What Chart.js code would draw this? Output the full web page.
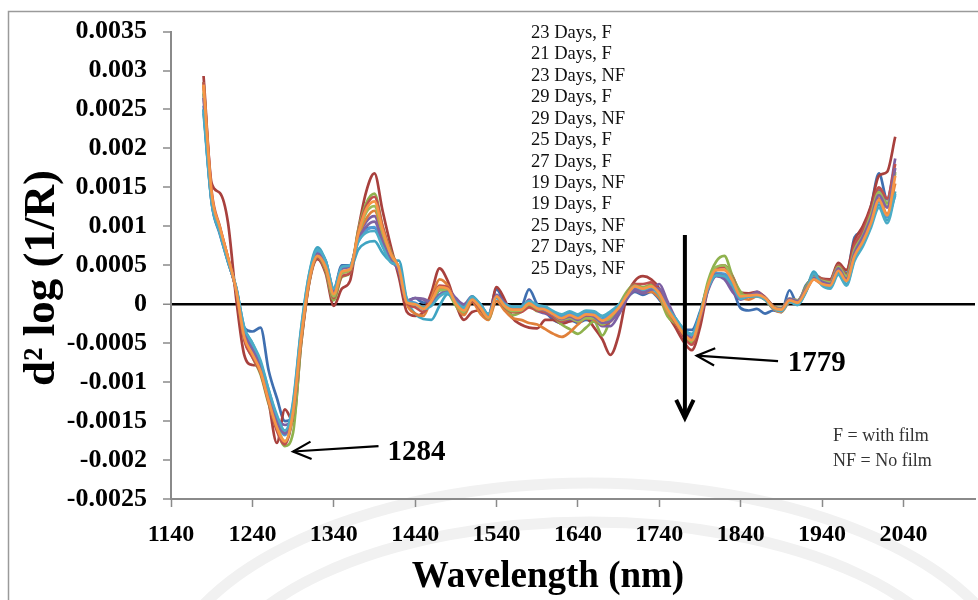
<!DOCTYPE html>
<html>
<head>
<meta charset="utf-8">
<script src="https://cdn.jsdelivr.net/npm/chart.js@4"></script>
<style>
  html, body { margin: 0; padding: 0; background: #fff; }
  #wrap { width: 978px; height: 600px; position: relative; }
</style>
</head>
<body>
<div id="wrap"><canvas id="chart" width="978" height="600"></canvas></div>
<script>
// wavelength (nm) of each sample
const wavelengths = [1180,1190,1200,1210,1220,1230,1240,1250,1260,1270,1280,1290,1300,1310,1320,1330,1340,1350,1360,1370,
  1380,1390,1400,1410,1420,1430,1440,1450,1460,1470,1480,1490,1500,1510,1520,1530,1540,1550,1560,1570,
  1580,1590,1600,1610,1620,1630,1640,1650,1660,1670,1680,1690,1700,1710,1720,1730,1740,1750,1760,1770,
  1780,1790,1800,1810,1820,1830,1840,1850,1860,1870,1880,1890,1900,1910,1920,1930,1940,1950,1960,1970,
  1980,1990,2000,2010,2020,2030];

const seriesNames = ["23 Days, F","21 Days, F","23 Days, NF","29 Days, F","29 Days, NF","25 Days, F",
  "27 Days, F","19 Days, NF","19 Days, F","25 Days, NF","27 Days, NF","25 Days, NF"];

const seriesColors = ["#3f6fb0","#a8403d","#8fb24e","#7c5fa3","#3fa4c2","#e0803a",
  "#4c9bd6","#c0504d","#9bbb59","#8064a2","#4bacc6","#f79646"];

// second derivative values, in units of 1e-4
const s1 = [25.0,13.0,9.0,5.5,2.0,-3.0,-3.5,-3.0,-8.5,-12.0,-15.0,-14.5,-4.5,3.5,6.8,5.6,2.0,5.0,5.0,8.5,
  9.8,9.8,7.8,5.5,4.5,0.5,0.8,0.2,0.3,1.8,2.0,0.5,-0.5,0.5,0.0,-1.3,1.9,0.2,-0.5,-0.4,
  1.9,0.0,-1.0,-2.0,-2.4,-2.0,-2.4,-2.0,-2.2,-2.6,-2.0,-0.6,0.8,1.6,1.2,1.6,0.6,-0.8,-2.0,-3.2,
  -3.3,-1.0,2.5,4.0,3.6,2.0,-0.5,-0.8,-0.6,-1.2,-0.8,-1.0,1.8,0.0,2.4,3.2,2.8,3.0,5.0,4.0,
  8.6,9.5,12.5,16.8,13.5,13.9];
const s2 = [29.3,15.5,14.3,10.5,0.8,-6.5,-7.8,-8.0,-12.5,-17.8,-13.5,-15.0,-5.0,2.8,5.8,4.0,-0.2,2.0,3.0,9.5,
  14.5,16.8,12.0,7.5,3.5,-1.0,-1.5,-1.0,1.5,4.6,3.0,0.0,-2.0,-1.0,-0.8,-1.8,2.2,0.6,-1.8,-2.6,
  -3.0,-3.1,-2.0,-2.0,-2.5,-2.2,-2.0,-1.8,-3.0,-4.5,-6.5,-4.0,1.0,3.0,3.6,3.2,2.0,-1.2,-3.0,-4.8,
  -5.9,-3.0,2.0,4.5,5.0,3.6,1.5,1.4,1.6,0.9,-0.2,-0.6,0.5,0.4,2.0,3.8,3.3,3.2,5.3,4.4,
  8.2,10.0,12.6,16.5,17.0,21.5];
const s3 = [28.5,13.5,9.6,5.8,1.8,-4.5,-6.8,-9.0,-12.8,-16.0,-18.2,-16.5,-5.0,2.9,6.0,4.3,0.5,3.5,4.0,9.5,
  13.0,14.2,10.0,6.8,4.5,0.2,0.0,-0.6,0.3,2.0,1.6,-0.2,-1.3,0.6,-0.5,-2.0,1.0,-0.5,-1.4,-1.0,
  -0.2,-0.9,-1.0,-1.6,-2.6,-3.2,-3.8,-3.0,-2.2,-4.0,-2.0,-0.2,1.6,2.6,2.2,2.5,1.0,-1.5,-2.5,-4.0,
  -5.0,-1.5,3.0,5.5,6.2,3.6,1.6,1.0,1.2,0.6,-0.5,-0.6,0.6,0.4,2.2,3.6,3.2,2.9,5.0,3.8,
  7.2,9.0,11.8,14.8,13.0,17.0];
const s4 = [27.0,13.5,9.4,5.6,2.0,-3.5,-5.5,-7.8,-11.5,-14.5,-15.5,-14.0,-4.0,3.3,6.4,5.2,1.8,4.8,4.9,8.5,
  10.6,11.3,8.4,5.9,4.2,0.3,0.8,0.6,0.2,1.2,1.9,0.8,0.0,1.0,-0.4,-1.4,1.2,0.2,-0.6,-0.8,
  0.6,-0.8,-1.2,-1.6,-2.2,-1.9,-2.2,-1.6,-1.9,-2.8,-2.8,-1.4,0.6,1.7,1.4,1.8,2.6,0.4,-1.8,-3.5,
  -4.4,-1.8,1.8,3.6,3.2,1.6,0.6,1.0,1.6,0.8,-0.4,-0.6,0.6,0.5,2.0,3.3,2.8,2.6,4.6,3.4,
  6.4,8.8,11.2,14.6,13.5,18.7];
const s5 = [24.5,13.0,9.2,5.4,2.2,-3.0,-5.0,-7.5,-11.0,-14.5,-16.5,-12.5,-3.0,4.0,7.3,5.5,1.8,4.2,4.4,7.0,
  7.9,8.1,6.6,5.6,5.6,0.5,-1.2,-1.9,-2.0,-0.2,1.3,0.4,-0.4,1.0,0.0,-1.3,0.8,-0.3,-0.6,-0.6,
  0.2,-0.3,-0.4,-1.0,-1.4,-1.0,-1.4,-0.9,-1.0,-1.6,-1.0,-0.2,1.0,2.2,1.8,2.2,1.2,-0.4,-1.8,-3.2,
  -3.8,-1.2,2.2,3.8,3.8,2.6,0.8,1.2,1.2,0.8,-0.4,-0.8,0.4,0.0,1.6,4.2,2.6,2.2,4.0,2.6,
  5.8,7.8,10.2,12.8,10.8,14.5];
const s6 = [28.0,14.0,9.8,6.0,1.9,-4.0,-6.2,-8.5,-12.3,-15.8,-17.8,-14.0,-4.5,3.0,6.1,4.8,1.2,4.0,4.3,8.6,
  11.0,12.0,9.0,6.2,4.6,0.0,-1.2,-1.5,0.8,3.2,2.4,0.0,-1.4,0.3,-1.2,-2.0,0.4,-0.8,-1.8,-2.0,
  -2.4,-2.6,-3.2,-3.8,-4.2,-3.6,-2.6,-1.8,-2.0,-2.6,-1.4,-0.4,1.2,2.4,1.6,1.6,0.8,-1.0,-2.4,-3.9,
  -4.6,-1.8,2.2,4.4,4.4,3.0,1.0,0.6,1.0,0.6,-0.6,-1.0,0.2,0.2,1.6,3.2,2.6,2.6,4.4,3.0,
  6.4,8.2,10.6,13.6,11.6,15.5];
const s7 = [25.5,13.2,9.3,5.6,2.1,-3.2,-5.2,-7.6,-11.4,-14.8,-16.8,-13.2,-3.5,3.6,6.8,5.4,1.9,4.6,4.8,8.0,
  9.5,9.9,7.6,5.5,4.8,0.6,0.2,-0.4,0.0,1.2,1.6,0.3,-0.5,0.8,0.0,-1.4,1.0,0.0,-0.4,-0.4,
  0.3,-0.2,-0.5,-1.1,-1.6,-1.2,-1.6,-1.1,-1.3,-1.9,-1.3,-0.4,1.0,2.0,1.6,2.0,1.2,-0.5,-1.9,-3.3,
  -4.0,-1.4,2.2,4.0,3.9,2.8,0.8,1.0,1.1,0.7,-0.4,-0.6,0.6,0.3,1.8,3.6,2.8,2.5,4.3,3.0,
  6.2,8.0,10.5,13.2,11.2,14.0];
const s8 = [28.5,14.5,10.0,6.0,1.7,-4.6,-6.8,-8.8,-12.6,-16.2,-18.0,-14.2,-4.6,3.0,6.0,4.4,0.8,3.6,4.0,9.2,
  12.6,13.8,10.0,6.6,4.6,0.2,-0.4,-1.0,0.4,2.4,2.2,0.2,-1.0,0.4,-0.6,-1.8,1.0,-0.4,-1.0,-1.0,
  -0.4,-0.8,-1.0,-1.6,-2.2,-1.8,-2.2,-1.6,-1.8,-2.6,-2.2,-0.8,1.2,2.6,2.6,2.8,1.6,-0.6,-2.4,-4.2,
  -5.2,-2.0,2.2,4.6,4.8,3.4,1.2,1.2,1.4,0.9,-0.3,-0.5,0.7,0.5,2.0,3.6,3.2,3.0,5.0,3.8,
  7.6,9.4,12.0,15.0,13.6,18.0];
const s9 = [27.2,13.6,9.5,5.7,2.0,-4.0,-6.2,-8.5,-12.2,-15.6,-17.6,-14.0,-4.2,3.2,6.2,4.6,1.0,4.0,4.4,8.8,
  11.8,12.6,9.2,6.3,4.5,0.3,0.0,-0.5,0.2,1.8,1.8,0.0,-1.0,0.6,-0.4,-1.8,1.0,-0.3,-0.9,-0.8,
  0.0,-0.6,-0.8,-1.4,-2.0,-1.8,-2.2,-1.8,-1.8,-2.6,-1.8,-0.4,1.2,2.4,2.0,2.3,1.2,-0.8,-2.2,-3.8,
  -4.7,-1.6,2.6,4.8,5.0,3.2,1.2,1.1,1.2,0.8,-0.3,-0.5,0.7,0.5,2.0,3.5,3.0,2.8,4.8,3.6,
  7.0,8.8,11.5,14.4,12.6,16.8];
const s10 = [26.5,13.4,9.4,5.6,2.0,-3.6,-5.8,-8.0,-11.8,-15.0,-16.6,-13.6,-4.0,3.4,6.5,5.2,1.6,4.6,4.8,8.3,
  10.0,10.6,8.0,5.7,4.4,0.4,0.8,0.7,0.3,1.2,1.6,0.6,-0.2,0.8,-0.2,-1.4,1.1,0.0,-0.6,-0.6,
  0.3,-0.5,-0.8,-1.4,-1.9,-1.6,-2.0,-1.4,-1.6,-2.4,-2.2,-1.0,0.8,1.9,1.5,1.9,2.0,0.0,-1.9,-3.5,
  -4.3,-1.7,2.0,3.8,3.6,2.2,0.7,1.1,1.4,0.8,-0.4,-0.6,0.7,0.4,1.9,3.4,2.9,2.6,4.6,3.2,
  6.6,8.6,11.0,14.0,12.4,17.5];
const s11 = [25.0,13.1,9.2,5.5,2.2,-3.0,-5.0,-7.2,-11.0,-14.2,-16.2,-12.8,-3.2,3.9,7.0,5.6,2.0,4.8,5.0,8.0,
  9.2,9.4,7.4,5.4,4.8,0.6,0.0,-0.6,-0.2,1.0,1.5,0.3,-0.4,0.9,0.0,-1.3,0.9,0.0,-0.3,-0.3,
  0.4,-0.1,-0.3,-0.9,-1.3,-0.9,-1.3,-0.8,-0.9,-1.5,-0.9,-0.1,1.1,2.3,1.9,2.2,1.3,-0.4,-1.8,-3.2,
  -3.9,-1.3,2.1,3.7,3.6,2.4,0.7,1.0,1.0,0.6,-0.5,-0.9,0.3,-0.1,1.5,3.9,2.4,2.0,3.8,2.4,
  5.6,7.4,9.8,12.4,10.4,14.2];
const s12 = [28.2,14.2,9.9,6.0,1.9,-4.2,-6.4,-8.6,-12.4,-15.8,-17.6,-13.8,-4.2,3.2,6.2,4.8,1.3,4.2,4.5,9.0,
  12.2,13.2,9.6,6.5,4.7,0.2,0.0,-0.6,0.4,2.2,2.0,0.1,-0.8,0.6,-0.4,-1.7,1.0,-0.2,-0.7,-0.7,
  0.1,-0.5,-0.7,-1.3,-1.8,-1.4,-1.8,-1.3,-1.4,-2.1,-1.5,-0.5,1.1,2.3,2.0,2.3,1.4,-0.6,-2.2,-3.8,
  -4.6,-1.6,2.4,4.4,4.4,3.0,1.0,1.1,1.2,0.8,-0.4,-0.7,0.5,0.2,1.7,3.2,2.6,2.4,4.3,3.0,
  6.2,8.0,10.4,13.4,11.4,16.5];

const allSeries = [s1,s2,s3,s4,s5,s6,s7,s8,s9,s10,s11,s12];

const xTicks = [1140,1240,1340,1440,1540,1640,1740,1840,1940,2040];
const yTicks = [35,30,25,20,15,10,5,0,-5,-10,-15,-20,-25]; // units of 1e-4

const SERIF = "'Liberation Serif', 'Times New Roman', serif";

// watermark, frame, titles, legend text and arrows
const decorations = {
  id: "decorations",
  beforeDraw(chart) {
    const c = chart.ctx;
    c.save();
    c.strokeStyle = "#f1f1f1";
    c.lineWidth = 11;
    c.beginPath(); c.ellipse(590, 700, 430, 217, 0, Math.PI, 2 * Math.PI); c.stroke();
    c.beginPath(); c.ellipse(590, 700, 380, 178, 0, Math.PI, 2 * Math.PI); c.stroke();
    c.strokeStyle = "#9a9a9a";
    c.lineWidth = 1.5;
    c.beginPath(); c.moveTo(8.5, 700); c.lineTo(8.5, 11.5); c.lineTo(990, 11.5); c.stroke();
    c.restore();
  },
  afterDraw(chart) {
    const c = chart.ctx;
    const xs = chart.scales.x, ys = chart.scales.y;
    const px = v => xs.getPixelForValue(v);
    const py = v => ys.getPixelForValue(v);
    c.save();

    // axis titles
    c.fillStyle = "#000";
    c.textAlign = "center";
    c.textBaseline = "middle";
    c.font = "bold 37px " + SERIF;
    c.fillText("Wavelength (nm)", 548, 577);
    c.save();
    c.translate(42, 278);
    c.rotate(-Math.PI / 2);
    c.font = "bold 45px " + SERIF;
    c.fillText("d\u00B2 log (1/R)", 0, 0);
    c.restore();

    // series names (text only, as in the original)
    c.textAlign = "left";
    c.font = "18.5px " + SERIF;
    c.fillStyle = "#111";
    seriesNames.forEach((n, i) => c.fillText(n, 531, 33 + i * 21.45));

    c.fillStyle = "#333";
    c.font = "18px " + SERIF;
    c.fillText("F = with film", 833, 436);
    c.fillText("NF = No film", 833, 461);

    // arrows
    c.strokeStyle = "#000";
    c.fillStyle = "#000";
    function arrow(x1, y1, x2, y2, w) {
      c.lineWidth = w;
      c.beginPath(); c.moveTo(x1, y1); c.lineTo(x2, y2); c.stroke();
      const a = Math.atan2(y2 - y1, x2 - x1);
      c.beginPath();
      c.moveTo(x2 - 20 * Math.cos(a - 0.45), y2 - 20 * Math.sin(a - 0.45));
      c.lineTo(x2, y2);
      c.lineTo(x2 - 20 * Math.cos(a + 0.45), y2 - 20 * Math.sin(a + 0.45));
      c.stroke();
    }
    arrow(px(1395), py(-18.2), px(1290), py(-18.9), 2.2);
    arrow(px(1886), py(-7.3), px(1786), py(-6.6), 2.2);
    arrow(px(1771.5), py(8.9), px(1771.5), py(-14.6), 4);

    c.font = "bold 29px " + SERIF;
    c.textBaseline = "middle";
    c.fillText("1284", px(1400) + 5, 453);
    c.fillText("1779", px(1898), 364);
    c.restore();
  }
};

const ctx = document.getElementById("chart").getContext("2d");

new Chart(ctx, {
  type: "line",
  data: {
    datasets: allSeries.map((s, i) => ({
      label: seriesNames[i],
      data: s.map((v, j) => ({ x: wavelengths[j], y: v })),
      borderColor: seriesColors[i],
      backgroundColor: seriesColors[i],
      borderWidth: 2.7,
      pointRadius: 0,
      cubicInterpolationMode: "monotone",
      order: allSeries.length - i
    }))
  },
  options: {
    responsive: false,
    animation: false,
    layout: { padding: { left: 0, right: 3, top: 27, bottom: 0 } },
    plugins: {
      legend: { display: false },
      tooltip: { enabled: false }
    },
    scales: {
      x: {
        type: "linear",
        min: 1140,
        max: 2128,
        afterBuildTicks: scale => { scale.ticks = xTicks.map(v => ({ value: v })); },
        afterFit: scale => { scale.height = 101; },
        border: { display: true, color: "#8a8a8a", width: 2 },
        grid: { drawOnChartArea: false, drawTicks: true, tickLength: 8, tickColor: "#8a8a8a", tickWidth: 1.5 },
        ticks: {
          color: "#000",
          padding: 13,
          maxRotation: 0,
          autoSkip: false,
          font: { family: SERIF, size: 24, weight: "bold" },
          callback: v => String(v)
        }
      },
      y: {
        min: -25,
        max: 35,
        afterBuildTicks: scale => { scale.ticks = yTicks.map(v => ({ value: v })); },
        afterFit: scale => { scale.width = 171; },
        border: { display: true, color: "#8a8a8a", width: 2 },
        grid: {
          drawOnChartArea: true,
          drawTicks: true,
          tickLength: 8,
          tickColor: "#8a8a8a",
          tickWidth: 1.5,
          color: c => c.tick && c.tick.value === 0 ? "#000" : "rgba(0,0,0,0)",
          lineWidth: c => c.tick && c.tick.value === 0 ? 2.5 : 0
        },
        ticks: {
          color: "#000",
          padding: 16,
          font: { family: SERIF, size: 26, weight: "bold" },
          callback: v => String(parseFloat((v / 10000).toFixed(4)))
        }
      }
    }
  },
  plugins: [decorations]
});
</script>
</body>
</html>
